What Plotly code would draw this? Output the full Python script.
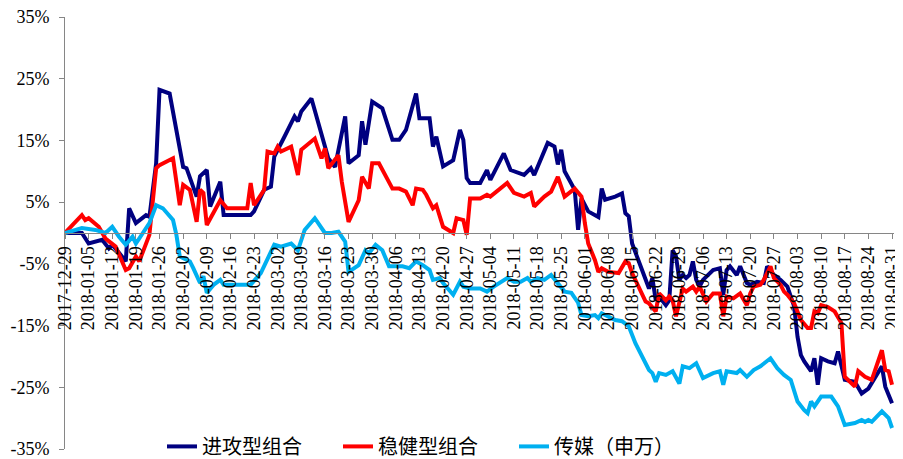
import plotly.graph_objects as go

# ---------------- data ----------------
series_names = ["进攻型组合", "稳健型组合", "传媒（申万）"]

attack_dates = [
    "2017-12-29", "2018-01-03", "2018-01-05", "2018-01-09", "2018-01-11", "2018-01-12", "2018-01-14",
    "2018-01-16", "2018-01-17", "2018-01-19", "2018-01-22", "2018-01-23", "2018-01-25", "2018-01-26",
    "2018-01-29", "2018-01-31", "2018-02-02", "2018-02-03", "2018-02-06", "2018-02-07", "2018-02-09",
    "2018-02-10", "2018-02-13", "2018-02-14", "2018-02-22", "2018-02-23", "2018-02-26", "2018-02-28",
    "2018-03-01", "2018-03-04", "2018-03-06", "2018-03-07", "2018-03-08", "2018-03-09", "2018-03-12",
    "2018-03-15", "2018-03-17", "2018-03-19", "2018-03-22", "2018-03-23", "2018-03-26", "2018-03-27",
    "2018-03-28", "2018-03-30", "2018-04-02", "2018-04-05", "2018-04-07", "2018-04-09", "2018-04-12",
    "2018-04-13", "2018-04-16", "2018-04-17", "2018-04-18", "2018-04-20", "2018-04-23", "2018-04-25",
    "2018-04-26", "2018-04-27", "2018-04-28", "2018-05-01", "2018-05-03", "2018-05-04", "2018-05-08",
    "2018-05-10", "2018-05-14", "2018-05-16", "2018-05-17", "2018-05-21", "2018-05-23", "2018-05-24",
    "2018-05-25", "2018-05-26", "2018-05-29", "2018-05-30", "2018-05-31", "2018-06-02", "2018-06-05",
    "2018-06-06", "2018-06-07", "2018-06-10", "2018-06-12", "2018-06-13", "2018-06-14", "2018-06-15",
    "2018-06-18", "2018-06-20", "2018-06-21", "2018-06-22", "2018-06-23", "2018-06-25", "2018-06-26",
    "2018-06-27", "2018-06-28", "2018-06-29", "2018-06-30", "2018-07-01", "2018-07-02", "2018-07-03",
    "2018-07-04", "2018-07-05", "2018-07-06", "2018-07-09", "2018-07-11", "2018-07-12", "2018-07-13",
    "2018-07-14", "2018-07-16", "2018-07-17", "2018-07-19", "2018-07-20", "2018-07-22", "2018-07-24",
    "2018-07-25", "2018-07-27", "2018-07-29", "2018-07-31", "2018-08-02", "2018-08-03", "2018-08-04",
    "2018-08-05", "2018-08-07", "2018-08-08", "2018-08-09", "2018-08-10", "2018-08-12", "2018-08-14",
    "2018-08-15", "2018-08-16", "2018-08-17", "2018-08-20", "2018-08-22", "2018-08-24", "2018-08-28",
    "2018-08-29", "2018-08-31",
]
attack_values = [
    0, 0, -1.7, -1.1, -2.5, -1.9, -3.2,
    -4.6, 4.0, 1.6, 2.9, 2.6, 11.3, 23.2,
    22.6, 16.7, 10.7, 10.5, 5.9, 9.2, 10.2,
    4.3, 8.3, 2.9, 2.9, 3.5, 7.0, 7.5,
    12.4, 15.6, 17.8, 18.9, 18.1, 19.7, 21.8,
    15.9, 12.1, 10.7, 18.9, 11.3, 12.6, 18.1,
    14.3, 21.3, 20.2, 15.1, 15.1, 16.7, 22.6,
    18.6, 18.6, 14.0, 15.6, 10.8, 11.8, 16.7,
    15.1, 8.9, 8.1, 8.1, 10.2, 8.6, 12.9,
    10.2, 9.4, 10.5, 9.4, 14.6, 14.0, 11.1,
    13.5, 10.0, 7.0, 0.5, 5.6, 3.5, 2.6,
    7.2, 5.4, 5.9, 6.4, 3.2, 2.7, -1.7,
    -6.0, -9.0, -7.3, -10.9, -10.3, -11.7, -10.9,
    -2.8, -3.8, -7.6, -6.8, -7.3, -6.8, -4.6,
    -7.6, -8.7, -7.6, -6.0, -5.7, -10.0, -6.0,
    -5.4, -6.8, -5.4, -8.1, -8.4, -7.9, -8.1,
    -5.4, -6.8, -7.6, -8.7, -11.9, -16.8, -19.8,
    -20.8, -22.4, -20.3, -24.6, -20.3, -20.8, -21.1,
    -19.2, -21.6, -23.8, -24.1, -26.0, -25.2, -21.6,
    -24.9, -27.6,
]

steady_dates = [
    "2017-12-29", "2018-01-03", "2018-01-04", "2018-01-05", "2018-01-08", "2018-01-10", "2018-01-13",
    "2018-01-16", "2018-01-17", "2018-01-19", "2018-01-20", "2018-01-22", "2018-01-23", "2018-01-25",
    "2018-01-26", "2018-01-30", "2018-01-31", "2018-02-01", "2018-02-02", "2018-02-04", "2018-02-06",
    "2018-02-07", "2018-02-08", "2018-02-09", "2018-02-13", "2018-02-15", "2018-02-21", "2018-02-22",
    "2018-02-23", "2018-02-26", "2018-02-27", "2018-03-01", "2018-03-02", "2018-03-03", "2018-03-06",
    "2018-03-08", "2018-03-09", "2018-03-13", "2018-03-15", "2018-03-16", "2018-03-17", "2018-03-20",
    "2018-03-21", "2018-03-23", "2018-03-26", "2018-03-27", "2018-03-29", "2018-03-30", "2018-04-01",
    "2018-04-05", "2018-04-07", "2018-04-09", "2018-04-11", "2018-04-12", "2018-04-14", "2018-04-15",
    "2018-04-17", "2018-04-18", "2018-04-20", "2018-04-23", "2018-04-24", "2018-04-26", "2018-04-27",
    "2018-04-28", "2018-05-01", "2018-05-03", "2018-05-04", "2018-05-08", "2018-05-09", "2018-05-11",
    "2018-05-14", "2018-05-16", "2018-05-17", "2018-05-20", "2018-05-22", "2018-05-24", "2018-05-26",
    "2018-05-29", "2018-05-31", "2018-06-01", "2018-06-02", "2018-06-04", "2018-06-05", "2018-06-06",
    "2018-06-08", "2018-06-11", "2018-06-13", "2018-06-14", "2018-06-15", "2018-06-19", "2018-06-20",
    "2018-06-22", "2018-06-23", "2018-06-25", "2018-06-26", "2018-06-27", "2018-06-28", "2018-06-30",
    "2018-07-01", "2018-07-03", "2018-07-04", "2018-07-05", "2018-07-07", "2018-07-09", "2018-07-11",
    "2018-07-12", "2018-07-13", "2018-07-15", "2018-07-17", "2018-07-19", "2018-07-20", "2018-07-21",
    "2018-07-23", "2018-07-24", "2018-07-26", "2018-07-27", "2018-07-29", "2018-07-30", "2018-07-31",
    "2018-08-02", "2018-08-04", "2018-08-06", "2018-08-07", "2018-08-08", "2018-08-09", "2018-08-10",
    "2018-08-12", "2018-08-14", "2018-08-16", "2018-08-17", "2018-08-20", "2018-08-21", "2018-08-23",
    "2018-08-25", "2018-08-28", "2018-08-29", "2018-08-30", "2018-08-31",
]
steady_values = [
    0, 2.9, 2.1, 2.4, 1.0, -0.9, -2.2,
    -6.0, -5.7, -3.8, -4.6, -1.7, -0.3, 10.5,
    11.0, 12.1, 7.8, 4.5, 7.8, 7.0, 1.8,
    7.0, 6.5, 1.3, 5.3, 4.0, 4.0, 8.1,
    4.5, 7.0, 13.2, 12.9, 14.0, 13.2, 14.0,
    9.4, 13.5, 15.3, 12.1, 13.7, 10.5, 12.6,
    8.3, 1.8, 5.3, 9.1, 7.2, 11.3, 11.3,
    7.2, 7.2, 6.7, 4.5, 7.2, 7.0, 6.2,
    4.0, 4.5, 1.0, 0.0, 2.4, 2.1, -0.3,
    5.6, 5.6, 6.2, 5.9, 7.8, 8.1, 6.5,
    5.9, 6.5, 4.3, 5.9, 6.7, 9.1, 5.9,
    7.2, 5.9, 1.6, -1.7, -4.4, -6.3, -5.7,
    -6.3, -6.5, -4.6, -4.9, -6.5, -11.1, -11.4,
    -12.7, -9.8, -10.9, -10.3, -10.9, -13.5, -9.0,
    -9.5, -8.7, -9.5, -8.7, -11.1, -9.8, -9.8,
    -13.5, -10.3, -10.6, -9.8, -11.7, -9.8, -8.7,
    -8.4, -7.6, -5.4, -7.3, -8.4, -9.5, -10.0,
    -11.4, -14.1, -15.4, -15.4, -12.7, -13.0, -11.7,
    -12.0, -12.7, -14.6, -23.3, -24.9, -22.4, -23.3,
    -23.8, -19.0, -22.2, -22.4, -24.6,
]

media_dates = [
    "2017-12-29", "2018-01-03", "2018-01-07", "2018-01-10", "2018-01-12", "2018-01-14", "2018-01-16",
    "2018-01-18", "2018-01-19", "2018-01-22", "2018-01-23", "2018-01-25", "2018-01-27", "2018-01-30",
    "2018-01-31", "2018-02-01", "2018-02-04", "2018-02-05", "2018-02-07", "2018-02-08", "2018-02-09",
    "2018-02-11", "2018-02-13", "2018-02-14", "2018-02-22", "2018-02-25", "2018-03-01", "2018-03-03",
    "2018-03-06", "2018-03-08", "2018-03-10", "2018-03-13", "2018-03-16", "2018-03-18", "2018-03-20",
    "2018-03-22", "2018-03-23", "2018-03-26", "2018-03-28", "2018-03-29", "2018-03-31", "2018-04-02",
    "2018-04-04", "2018-04-08", "2018-04-10", "2018-04-12", "2018-04-14", "2018-04-16", "2018-04-17",
    "2018-04-19", "2018-04-20", "2018-04-23", "2018-04-25", "2018-04-26", "2018-04-28", "2018-05-01",
    "2018-05-03", "2018-05-05", "2018-05-08", "2018-05-09", "2018-05-11", "2018-05-13", "2018-05-15",
    "2018-05-16", "2018-05-18", "2018-05-20", "2018-05-22", "2018-05-24", "2018-05-26", "2018-05-28",
    "2018-05-30", "2018-05-31", "2018-06-02", "2018-06-04", "2018-06-05", "2018-06-06", "2018-06-08",
    "2018-06-10", "2018-06-12", "2018-06-14", "2018-06-16", "2018-06-18", "2018-06-20", "2018-06-21",
    "2018-06-22", "2018-06-23", "2018-06-25", "2018-06-27", "2018-06-29", "2018-06-30", "2018-07-02",
    "2018-07-04", "2018-07-06", "2018-07-09", "2018-07-11", "2018-07-12", "2018-07-13", "2018-07-16",
    "2018-07-17", "2018-07-19", "2018-07-21", "2018-07-23", "2018-07-26", "2018-07-28", "2018-07-30",
    "2018-08-01", "2018-08-03", "2018-08-05", "2018-08-06", "2018-08-07", "2018-08-08", "2018-08-10",
    "2018-08-13", "2018-08-15", "2018-08-17", "2018-08-20", "2018-08-22", "2018-08-23", "2018-08-24",
    "2018-08-25", "2018-08-28", "2018-08-30", "2018-08-31",
]
media_values = [
    0, 0.8, 0.5, 0.0, 1.0, -0.6, -1.9,
    -0.6, -1.7, 0.8, 1.6, 4.5, 4.0, 2.1,
    -0.3, -3.8, -4.6, -5.7, -8.1, -7.0, -9.7,
    -8.4, -7.6, -8.4, -8.4, -6.5, -1.9, -2.2,
    -1.7, -2.8, 0.5, 2.4, 0.0, 0.0, 0.2,
    -1.4, -6.3, -5.2, -2.8, -3.3, -1.9, -2.8,
    -5.4, -5.4, -5.7, -4.6, -5.2, -6.0, -7.6,
    -7.3, -8.1, -10.0, -7.9, -8.7, -9.0, -9.0,
    -9.5, -8.7, -7.6, -7.3, -7.9, -7.9, -7.3,
    -7.9, -7.3, -7.6, -6.8, -8.1, -9.5, -9.7,
    -11.3, -13.3, -13.5, -13.3, -13.8, -13.0, -13.5,
    -14.1, -14.3, -15.1, -17.9, -20.0, -22.2, -22.7,
    -24.1, -22.7, -23.0, -22.4, -24.4, -21.6, -21.9,
    -21.1, -23.5, -22.7, -22.4, -24.6, -22.4, -22.7,
    -22.2, -23.3, -22.2, -21.6, -20.3, -21.9, -23.0,
    -23.8, -27.3, -28.7, -29.2, -27.3, -28.1, -26.5,
    -26.5, -28.1, -31.1, -30.8, -30.3, -30.6, -30.3,
    -30.6, -28.9, -30.0, -31.6,
]

y_tickvals = [-35, -25, -15, -5, 5, 15, 25, 35]
y_ticktext = ["-35%", "-25%", "-15%", "-5%", "5%", "15%", "25%", "35%"]

colors = ["#000080", "#FF0000", "#00B0F0"]

# ---------------- figure ----------------
fig = go.Figure()
for name, xs, ys, c in zip(series_names,
                           [attack_dates, steady_dates, media_dates],
                           [attack_values, steady_values, media_values],
                           colors):
    fig.add_trace(go.Scatter(x=xs, y=ys, mode="lines", name=name,
                             line=dict(color=c, width=4, shape="linear")))

axis_gray = "#868686"
serif = "Liberation Serif, Times New Roman, serif"

# the page body has an 8px default margin, so the figure is sized 8px smaller
fig.update_layout(
    width=895, height=451,
    margin=dict(l=57, r=9, t=9, b=10, autoexpand=False),
    paper_bgcolor="white", plot_bgcolor="white",
    showlegend=True,
    legend=dict(orientation="h", x=0.117, y=0.006, xanchor="left", yanchor="middle",
                font=dict(family="Noto Sans CJK SC", size=20, color="black"),
                bgcolor="rgba(0,0,0,0)", entrywidth=131, entrywidthmode="pixels",
                itemwidth=30),
    xaxis=dict(
        type="date",
        range=["2017-12-29", "2018-08-31 14:00"],
        tick0="2017-12-29", dtick=7 * 86400000,
        tickformat="%Y-%m-%d", tickangle=-90,
        tickfont=dict(family=serif, size=18, color="black"),
        ticks="outside", ticklen=5, tickcolor=axis_gray,
        ticklabeloverflow="allow",
        showline=True, linecolor=axis_gray, linewidth=1,
        showgrid=False, zeroline=False,
        anchor="free", position=0.5, automargin=False,
    ),
    yaxis=dict(
        range=[-35, 35],
        tickvals=y_tickvals, ticktext=y_ticktext,
        tickfont=dict(family=serif, size=18, color="black"),
        ticks="outside", ticklen=5, tickcolor=axis_gray,
        ticklabelstandoff=6, ticklabeloverflow="allow",
        showline=True, linecolor=axis_gray, linewidth=1,
        showgrid=False, zeroline=False, automargin=False,
    ),
)

fig.write_html("out.html")
